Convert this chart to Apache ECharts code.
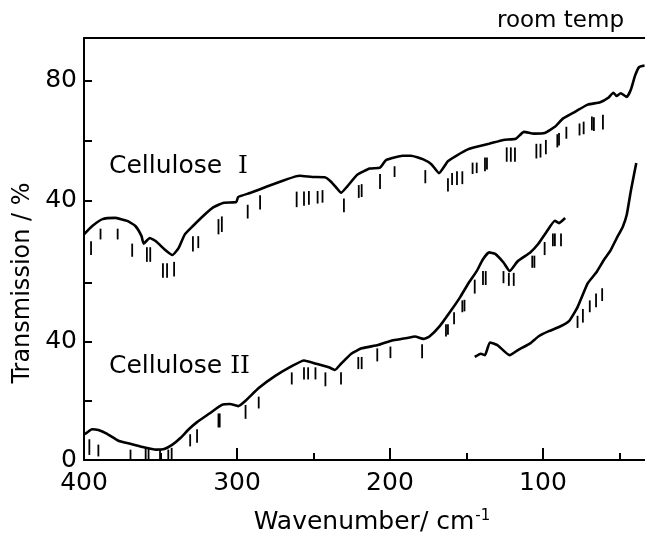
<!DOCTYPE html>
<html>
<head>
<meta charset="utf-8">
<script src="https://cdn.jsdelivr.net/npm/echarts@6/dist/echarts.min.js"></script>
<style>html,body{margin:0;padding:0;background:#fff}#c{width:645px;height:536px}</style>
</head>
<body>
<div id="c"></div>
<script>
// ---- data ----
const cellIWavenumber = [400,394.6,387.9,379.8,371.8,366.4,362.4,361,357,353,347.6,342.2,338.2,334.1,328.8,320.7,315.3,308.6,300.5,299.2,291.1,280.4,269.6,261.6,258.9,250.8,242.7,238.7,234.7,232,228,221.2,213.2,206.5,202.4,191.7,186.3,178.2,172.8,168,162.1,156.7,148.7,143.3,135.2,125.8,117.7,112.4,105.6,98.9,92.2,86.8,78.8,70.7,62.6,57.3,54,51.9,49.2,45.2,42.5,39.8,37.1,33.6];
const cellITransmission = [28.6,31.4,33.7,34.1,33.1,31.4,28.0,25.5,27.4,26.3,23.7,21.7,24.0,28.6,31.4,35.4,37.7,39.2,39.4,41.1,42.5,44.6,46.6,48.0,48.2,47.8,47.7,46.3,44.0,42.5,44.6,48.6,50.6,50.9,53.5,54.9,54.9,53.7,52.0,49.1,53.1,54.9,57.1,57.9,58.9,60.2,60.6,62.9,62.3,62.5,64.6,67.4,69.7,72.0,72.8,74.3,76.0,74.9,75.8,74.6,77.1,81.7,84.6,85.1];

const cellIIWavenumber = [399.5,394.6,390.6,385.2,377.2,369.1,361,353,347.6,342.2,336.8,331.5,326.1,318,309.9,304.6,299.2,293.8,285.8,275,264.2,256.2,248.1,240,236,232,225.3,218.5,207.8,199.7,189,183.6,178.2,174.2,167.5,159.4,154,148.7,143.3,139.2,135.2,131.2,125.8,121.8,116.4,108.3,103,97.6,92.2,89.5,85.5];
const cellIITransmission = [8.7,10.4,10.1,8.9,6.4,5.4,4.3,3.5,3.7,5.2,7.5,10.4,12.8,15.7,18.6,18.9,18.2,20.3,24.3,28.4,31.7,33.6,32.5,31.3,30.4,32.5,35.9,37.7,38.8,40.2,41.2,41.7,40.9,41.7,45.2,51.0,55.1,59.7,63.8,67.8,70.1,69.6,66.7,63.8,67.2,70.1,73.0,77.1,80.8,80.0,81.7];

const cellIIFarWavenumber = [144.6,140.6,137.9,134.7,129.8,121.8,116.4,108.3,103,96.2,89.5,82.8,77.4,70.7,65.3,59.9,55.9,51.9,47.8,45.2,42.5,39];
const cellIIFarTransmission = [34.8,35.9,35.4,39.7,38.8,35.4,37.1,39.4,41.7,43.5,44.9,47.0,51.6,59.7,63.2,67.8,70.7,74.8,78.8,82.9,91.0,100.3];

// band markers (wavenumber, top and bottom in % of each curve's scale)
const cellIBandWavenumber = [395.4,389.2,378.0,368.5,358.9,356.7,348.4,345.7,341.1,328.8,325.3,312.1,309.9,293.0,284.9,261.0,256.2,253.0,247.3,244.1,230.1,220.4,218.5,206.5,197.0,176.9,162.1,159.4,156.2,152.7,146.0,143.3,137.9,136.6,123.7,121.0,118.3,104.3,101.6,98.1,90.6,89.5,84.7,76.1,73.4,68.0,66.7,60.8];
const cellIBandTop = [26.3,30.5,30.5,25.5,24.3,24.3,18.9,18.9,19.4,28.0,28.0,33.7,34.6,38.5,41.7,42.9,42.9,43.1,43.1,43.4,40.6,45.1,45.4,48.8,51.4,50.1,47.4,49.1,49.7,49.7,52.6,52.6,54.3,54.3,57.7,57.7,57.7,58.9,58.9,60.2,62.1,62.5,64.6,65.7,66.3,68.0,67.8,68.6];
const cellIBandBottom = [21.7,26.9,26.9,21.1,19.4,19.4,14.1,14.1,14.5,22.9,24.0,28.6,29.4,33.9,36.9,37.7,38.2,38.5,38.9,39.2,36.0,40.8,41.1,43.8,47.8,45.7,42.9,45.1,45.1,45.4,48.8,49.1,49.7,50.3,52.9,52.9,52.9,54.0,54.3,55.4,57.7,58.3,60.6,61.7,62.1,63.4,63.2,63.7];

const cellIIBandWavenumber = [396.5,390.6,369.6,359.7,357.8,350.3,344.9,342.7,330.6,326.1,312.1,311.3,294.4,285.8,264.2,256.2,253.5,248.7,242.2,232.0,220.7,218.5,208.3,199.7,179.0,163.4,162.1,158.1,152.7,151.3,144.6,139.2,137.4,125.8,122.3,119.1,107.0,105.6,98.9,93.5,92.2,88.2,77.4,73.9,69.4,65.3,61.3];
const cellIIBandTop = [7.0,5.2,3.5,4.1,4.1,3.5,3.5,4.1,8.7,10.4,15.7,15.7,18.6,21.4,29.6,31.3,31.3,31.3,29.6,29.6,34.8,34.8,37.7,38.3,39.1,45.8,45.8,49.9,53.9,54.1,60.9,63.8,63.8,63.8,63.2,63.2,69.0,69.0,73.6,76.5,76.5,76.5,48.7,51.0,53.9,56.2,58.0];
const cellIIBandBottom = [1.7,1.2,0,0,0,0,0,0,4.6,5.8,11.0,11.0,13.9,17.4,25.5,27.2,27.2,27.2,24.9,25.5,30.7,30.7,33.3,34.4,34.4,41.7,42.3,45.8,49.9,50.2,56.2,59.1,59.1,59.7,58.8,58.8,64.9,64.9,69.2,72.2,72.2,72.2,44.6,46.4,49.9,51.6,53.7];

const xMajorTicks = [400,300,200,100];
const xMinorTicks = [350,250,150,50];
const lowerYTicks = [0,20,40,60];
const lowerYLabels = [0,40];
const upperYTicks = [40,60,80];
const upperYLabels = [40,80];

// ---- chart ----
const FONT = 'DejaVu Sans';
const SERIF = 'DejaVu Serif';
const zip2 = (a, b) => a.map((v, i) => [v, b[i]]);
const zip3 = (a, b, c) => a.map((v, i) => [v, b[i], c[i]]);

const bandRender = (params, api) => {
  const p1 = api.coord([api.value(0), api.value(1)]);
  const p2 = api.coord([api.value(0), api.value(2)]);
  return { type: 'line', shape: { x1: p1[0], y1: p1[1], x2: p2[0], y2: p2[1] },
           style: { stroke: '#000', lineWidth: 1.8 } };
};

const chart = echarts.init(document.getElementById('c'), null, { renderer: 'canvas' });
const xBase = { type: 'value', inverse: true, min: 33.3, max: 400, splitLine: { show: false } };
chart.setOption({
  animation: false,
  backgroundColor: '#fff',
  grid: { left: 84, right: 0, top: 38, bottom: 76 },
  xAxis: [
    Object.assign({}, xBase, {
      position: 'bottom',
      axisLine: { show: true, onZero: false, lineStyle: { color: '#000', width: 2 } },
      axisTick: { show: true, inside: true, length: 12, customValues: xMajorTicks, lineStyle: { color: '#000', width: 2 } },
      axisLabel: { show: true, customValues: xMajorTicks, color: '#000', fontSize: 25, fontFamily: FONT, margin: 11 }
    }),
    Object.assign({}, xBase, {
      position: 'bottom',
      axisLine: { show: false },
      axisTick: { show: true, inside: true, length: 7, customValues: xMinorTicks, lineStyle: { color: '#000', width: 2 } },
      axisLabel: { show: false }
    }),
    Object.assign({}, xBase, {
      position: 'top',
      axisLine: { show: true, onZero: false, lineStyle: { color: '#000', width: 2 } },
      axisTick: { show: false },
      axisLabel: { show: false }
    })
  ],
  yAxis: [
    {
      type: 'value', min: 0, max: 142.5, position: 'left', splitLine: { show: false },
      axisLine: { show: true, onZero: false, lineStyle: { color: '#000', width: 2 } },
      axisTick: { show: true, inside: true, length: 8, customValues: lowerYTicks, lineStyle: { color: '#000', width: 2 } },
      axisLabel: { show: true, customValues: lowerYLabels, color: '#000', fontSize: 25, fontFamily: FONT, margin: 7 }
    },
    {
      type: 'value', min: -46.9, max: 94.3, position: 'left', splitLine: { show: false },
      axisLine: { show: false },
      axisTick: { show: true, inside: true, length: 8, customValues: upperYTicks, lineStyle: { color: '#000', width: 2 } },
      axisLabel: { show: true, customValues: upperYLabels, color: '#000', fontSize: 25, fontFamily: FONT, margin: 7 }
    }
  ],
  series: [
    { name: 'Cellulose I', type: 'line', xAxisIndex: 0, yAxisIndex: 1, data: zip2(cellIWavenumber, cellITransmission),
      showSymbol: false, lineStyle: { color: '#000', width: 2.6 }, smooth: 0.15 },
    { name: 'Cellulose II', type: 'line', xAxisIndex: 0, yAxisIndex: 0, data: zip2(cellIIWavenumber, cellIITransmission),
      showSymbol: false, lineStyle: { color: '#000', width: 2.6 }, smooth: 0.15 },
    { name: 'Cellulose II (far IR)', type: 'line', xAxisIndex: 0, yAxisIndex: 0, data: zip2(cellIIFarWavenumber, cellIIFarTransmission),
      showSymbol: false, lineStyle: { color: '#000', width: 2.6 }, smooth: 0.15 },
    { name: 'Cellulose I bands', type: 'custom', xAxisIndex: 0, yAxisIndex: 1, renderItem: bandRender,
      encode: { x: 0, y: [1, 2] }, data: zip3(cellIBandWavenumber, cellIBandTop, cellIBandBottom) },
    { name: 'Cellulose II bands', type: 'custom', xAxisIndex: 0, yAxisIndex: 0, renderItem: bandRender,
      encode: { x: 0, y: [1, 2] }, data: zip3(cellIIBandWavenumber, cellIIBandTop, cellIIBandBottom) }
  ],
  graphic: [
    { type: 'text', left: 497, top: 10, style: { text: 'room temp', fill: '#000', font: '23px "DejaVu Sans"' } },
    { type: 'text', x: 109, y: 166, style: { text: '{a|Cellulose  }{r|I}', verticalAlign: 'middle',
        rich: { a: { fontSize: 25, fontFamily: FONT, fill: '#000' }, r: { fontSize: 25, fontFamily: SERIF, fill: '#000' } } } },
    { type: 'text', x: 109, y: 366, style: { text: '{a|Cellulose }{r|II}', verticalAlign: 'middle',
        rich: { a: { fontSize: 25, fontFamily: FONT, fill: '#000' }, r: { fontSize: 25, fontFamily: SERIF, fill: '#000' } } } },
    { type: 'text', x: 23, y: 283, rotation: Math.PI / 2, style: { text: 'Transmission / %', align: 'center', verticalAlign: 'middle',
        fill: '#000', font: '24px "DejaVu Sans"' } },
    { type: 'text', x: 372, y: 522, style: { text: '{a|Wavenumber/ cm}{s|-1}', align: 'center', verticalAlign: 'middle',
        rich: { a: { fontSize: 25, fontFamily: FONT, fill: '#000' }, s: { fontSize: 15, fontFamily: FONT, fill: '#000', verticalAlign: 'top', padding: [0, 0, 12, 1] } } } }
  ]
});
</script>
</body>
</html>
